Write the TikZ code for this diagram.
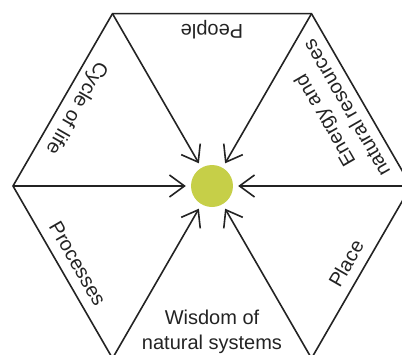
\documentclass[tikz,border=0pt]{standalone}
\usepackage{fontspec}
\setmainfont{Liberation Sans}
\usetikzlibrary{arrows.meta}
\definecolor{hubgreen}{RGB}{198,207,72}
\definecolor{inkgray}{RGB}{35,35,35}

\begin{document}
\begin{tikzpicture}[x=1pt,y=1pt,
    hexline/.style={draw=inkgray,line width=1.6pt,line join=miter},
    spoke/.style={draw=inkgray,line width=1.6pt,shorten >=5pt,
      -{Straight Barb[length=15pt,width=22pt,line width=1.6pt]}},
    edgelabel/.style={text=inkgray,inner sep=0pt,anchor=base,
      font=\fontsize{20}{25}\selectfont}]
  \useasboundingbox (-212,-168) rectangle (190,186);
  \clip (-212,-168) rectangle (190,186);

  % corners of the hexagon
  \foreach \i in {0,...,5}
    \coordinate (v\i) at (\i*60:199);
  \draw[hexline] (v0) -- (v1) -- (v2) -- (v3) -- (v4) -- (v5) -- cycle;

  % centre dot
  \node[circle,fill=hubgreen,minimum size=42pt,inner sep=0pt] (hub) at (0,0) {};

  % arrows into the centre
  \foreach \i in {0,...,5}
    \draw[spoke] (v\i) -- (hub);

  % labels along the sides, tops towards the centre
  \foreach \ang/\name/\txt in {90/people/People,150/cycle/Cycle of life,
      210/process/Processes,330/place/Place}
    \node[edgelabel,rotate=\ang+90] (\name) at (\ang:162) {\txt};
  \node[edgelabel,align=center,rotate=120] (energy) at (30:162)
    {Energy and\\natural resources};
  \node[edgelabel,align=center] (wisdom) at (270:163)
    {Wisdom of\\natural systems};
\end{tikzpicture}
\end{document}
